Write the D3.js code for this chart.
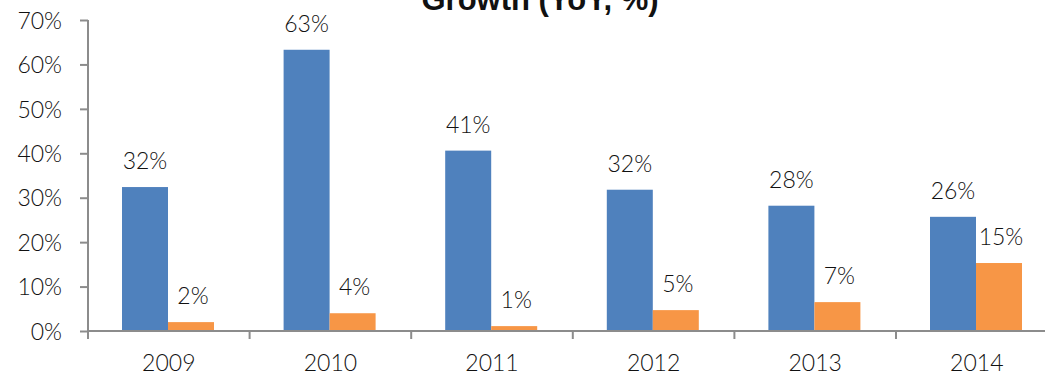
<!DOCTYPE html>
<html>
<head>
<meta charset="utf-8">
<script src="https://d3js.org/d3.v7.min.js"></script>
<style>
  body { margin: 0; background: #fff; }
  svg text { font-family: Lato, "DejaVu Sans", sans-serif; font-weight: 300; fill: #111; }
</style>
</head>
<body>
<svg id="chart" width="1045" height="375"></svg>
<script>
// values
const years = ["2009", "2010", "2011", "2012", "2013", "2014"];
const seriesA = [32.4, 63.3, 40.6, 31.8, 28.2, 25.7];
const seriesB = [2.0, 4.0, 1.1, 4.7, 6.5, 15.3];
const yTicks = [0, 10, 20, 30, 40, 50, 60, 70];

const svg = d3.select("#chart");
const plotLeft = 88, plotTop = 20, plotBottom = 331;
const bandW = 161.6;
const fontSize = "23px";

const x = d3.scaleBand().domain(years).range([plotLeft, plotLeft + bandW * years.length]);
const y = d3.scaleLinear().domain([0, 70]).range([plotBottom, plotTop]);
const barW = 46, offset = 34;

const axisColor = "#8c8c8c";

// title, cut off at the top like the reference
svg.append("text")
  .attr("x", 540).attr("y", 10)
  .attr("text-anchor", "middle")
  .style("font-family", "'Liberation Sans', Arial, sans-serif")
  .style("font-weight", "bold")
  .style("font-size", "31px")
  .text("Growth (YoY, %)");

// y axis
const yAxis = svg.append("g")
  .attr("transform", `translate(${plotLeft},0)`)
  .call(d3.axisLeft(y).tickValues(yTicks).tickSize(8).tickPadding(18).tickFormat(d => d + "%"));
yAxis.select(".domain").remove();
yAxis.selectAll("line").attr("stroke", axisColor).attr("stroke-width", 2);
yAxis.selectAll("text").style("font-size", fontSize).style("font-family", "Lato, sans-serif")
  .style("font-weight", 300).attr("fill", "#111").attr("dy", "0.36em");
svg.append("line").attr("x1", plotLeft).attr("x2", plotLeft).attr("y1", plotTop).attr("y2", plotBottom + 8)
  .attr("stroke", axisColor).attr("stroke-width", 2);

// bars
const g = svg.append("g");
g.selectAll(".a").data(years).join("rect")
  .attr("x", d => x(d) + offset).attr("width", barW)
  .attr("y", (d, i) => y(seriesA[i])).attr("height", (d, i) => plotBottom - y(seriesA[i]))
  .attr("fill", "#4f81bd");
g.selectAll(".b").data(years).join("rect")
  .attr("x", d => x(d) + offset + barW).attr("width", barW)
  .attr("y", (d, i) => y(seriesB[i])).attr("height", (d, i) => plotBottom - y(seriesB[i]))
  .attr("fill", "#f79646");

// value labels
g.selectAll(".la").data(years).join("text")
  .attr("x", d => x(d) + offset + barW / 2)
  .attr("y", (d, i) => y(seriesA[i]) - 18)
  .attr("text-anchor", "middle").style("font-size", fontSize)
  .text((d, i) => Math.round(seriesA[i]) + "%");
g.selectAll(".lb").data(years).join("text")
  .attr("x", d => x(d) + offset + barW * 1.5 + 2)
  .attr("y", (d, i) => y(seriesB[i]) - 18)
  .attr("text-anchor", "middle").style("font-size", fontSize)
  .text((d, i) => Math.round(seriesB[i]) + "%");

// x axis
svg.append("line").attr("x1", plotLeft).attr("x2", 1045).attr("y1", plotBottom).attr("y2", plotBottom)
  .attr("stroke", axisColor).attr("stroke-width", 2);
svg.selectAll(".xt").data(years.concat(["end"])).join("line")
  .attr("x1", (d, i) => plotLeft + i * bandW).attr("x2", (d, i) => plotLeft + i * bandW)
  .attr("y1", plotBottom).attr("y2", plotBottom + 8)
  .attr("stroke", axisColor).attr("stroke-width", 2);
svg.selectAll(".xl").data(years).join("text")
  .attr("x", d => x(d) + x.bandwidth() / 2)
  .attr("y", 371)
  .attr("text-anchor", "middle").style("font-size", fontSize)
  .text(d => d);
</script>
</body>
</html>
